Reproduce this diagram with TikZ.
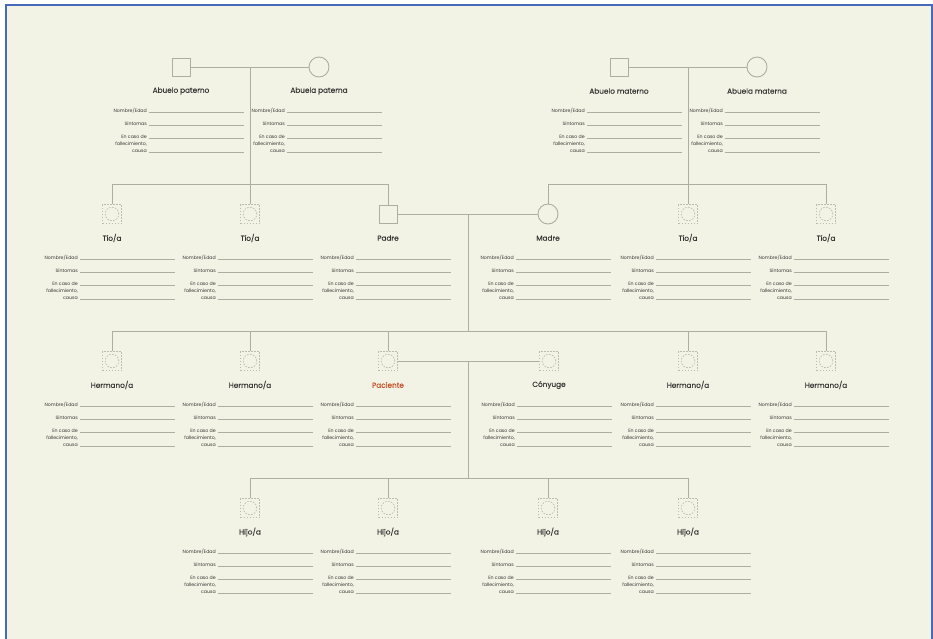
\documentclass[tikz,border=0pt]{standalone}
\usepackage{fontspec}
\setmainfont{Poppins}
\newfontfamily\capfont{Poppins}[FakeBold=0.3]
\usepackage{tikz}
\usetikzlibrary{calc}
\definecolor{papel}{RGB}{243,243,229}
\definecolor{marco}{RGB}{70,105,190}
\definecolor{trazo}{RGB}{172,174,160}
\definecolor{punteado}{RGB}{186,188,176}
\definecolor{texto}{RGB}{55,55,55}
\definecolor{pacrojo}{RGB}{196,78,38}
\tikzset{
  base/.style     = {draw=trazo, line width=0.9pt, inner sep=0pt},
  varon/.style    = {base, rectangle, minimum size=18pt},
  mujer/.style    = {base, circle, minimum size=20pt},
  incierto/.style = {draw=punteado, line width=0.7pt, dash pattern=on 1.6pt off 1.4pt,
                     minimum size=19pt, inner sep=0pt,
                     path picture={\draw[punteado, line width=0.7pt, dash pattern=on 1.6pt off 1.4pt]
                       (path picture bounding box.center) circle (6.8pt);}},
  rotulo/.style   = {font=\capfont\fontsize{7.3}{8}\selectfont, text=texto, inner sep=0pt},
  campo/.style    = {font=\fontsize{4.7}{7}\selectfont, text=texto, inner sep=0pt,
                     anchor=east, align=right},
  renglon/.style  = {draw=trazo, line width=0.6pt},
  enlace/.style   = {draw=trazo, line width=0.9pt},
}
% caption and form below a person symbol
\newcommand{\ficha}[3]{%
  \node[rotulo,#3] (#1-rot) at ($(#1)+(0,24)$) {#2};
  \node[campo] (#1-a) at ($(#1)+(-34,44)$) {Nombre/Edad};
  \node[campo] (#1-b) at ($(#1)+(-34,57)$) {Síntomas};
  \node[campo] (#1-c) at ($(#1)+(-34,77)$) {En caso de\\fallecimiento,\\causa};
  \foreach \dy in {45,58,71,85}
    \draw[renglon] ($(#1)+(-32,\dy)$) -- ($(#1)+(63,\dy)$);
}

\begin{document}
\begin{tikzpicture}[x=1pt, y=-1pt]
  \useasboundingbox (0,0) rectangle (933,638);
  \fill[white] (0,0) rectangle (933,638);
  \draw[marco, fill=papel, line width=1.5pt] (6,5) rectangle (932,660);

  % abuelos
  \node[varon] (abuP) at (181,67) {};
  \node[mujer] (abaP) at (319,67) {};
  \node[varon] (abuM) at (619,67) {};
  \node[mujer] (abaM) at (757,67) {};

  % padres y tios
  \node[incierto] (tio1)  at (112,214) {};
  \node[incierto] (tio2)  at (250,214) {};
  \node[varon]    (padre) at (388,214) {};
  \node[mujer]    (madre) at (548,214) {};
  \node[incierto] (tio3)  at (688,214) {};
  \node[incierto] (tio4)  at (826,214) {};

  % paciente, conyuge y hermanos
  \node[incierto] (her1) at (112,361) {};
  \node[incierto] (her2) at (250,361) {};
  \node[incierto] (pac)  at (388,361) {};
  \node[incierto] (cony) at (549,361) {};
  \node[incierto] (her3) at (688,361) {};
  \node[incierto] (her4) at (826,361) {};

  % hijos
  \node[incierto] (hijo1) at (250,508) {};
  \node[incierto] (hijo2) at (388,508) {};
  \node[incierto] (hijo3) at (548,508) {};
  \node[incierto] (hijo4) at (688,508) {};

  \ficha{abuP}{Abuelo paterno}{}
  \ficha{abaP}{Abuela paterna}{}
  \ficha{abuM}{Abuelo materno}{}
  \ficha{abaM}{Abuela materna}{}
  \foreach \n in {tio1,tio2,tio3,tio4} {\ficha{\n}{Tío/a}{}}
  \ficha{padre}{Padre}{}
  \ficha{madre}{Madre}{}
  \foreach \n in {her1,her2,her3,her4} {\ficha{\n}{Hermano/a}{}}
  \ficha{pac}{Paciente}{text=pacrojo}
  \ficha{cony}{Cónyuge}{}
  \foreach \n in {hijo1,hijo2,hijo3,hijo4} {\ficha{\n}{Hijo/a}{}}

  % niveles de hermanos
  \coordinate (nivT) at (0,184);
  \coordinate (nivH) at (0,331);
  \coordinate (nivJ) at (0,478);
  \coordinate (uPM) at ($(padre)!0.5!(madre)$);
  \coordinate (uPC) at ($(pac)!0.5!(cony)$);

  % parejas
  \draw[enlace] (abuP) -- (abaP);
  \draw[enlace] (abuM) -- (abaM);
  \draw[enlace] (padre) -- (madre);
  \draw[enlace] (pac) -- (cony);

  % rama paterna
  \draw[enlace] (tio2.north) -- (tio2 |- abuP);
  \draw[enlace] (tio1.north) -- (tio1 |- nivT) -- (padre |- nivT) -- (padre.north);
  % rama materna
  \draw[enlace] (tio3.north) -- (tio3 |- abuM);
  \draw[enlace] (madre.north) -- (madre |- nivT) -- (tio4 |- nivT) -- (tio4.north);

  % hermanos
  \draw[enlace] (uPM) -- (uPM |- nivH);
  \draw[enlace] (her1 |- nivH) -- (her4 |- nivH);
  \foreach \n in {her1,her2,pac,her3,her4}
    \draw[enlace] (\n.north) -- (\n |- nivH);

  % hijos
  \draw[enlace] (uPC) -- (uPC |- nivJ);
  \draw[enlace] (hijo1 |- nivJ) -- (hijo4 |- nivJ);
  \foreach \n in {hijo1,hijo2,hijo3,hijo4}
    \draw[enlace] (\n.north) -- (\n |- nivJ);
\end{tikzpicture}
\end{document}
